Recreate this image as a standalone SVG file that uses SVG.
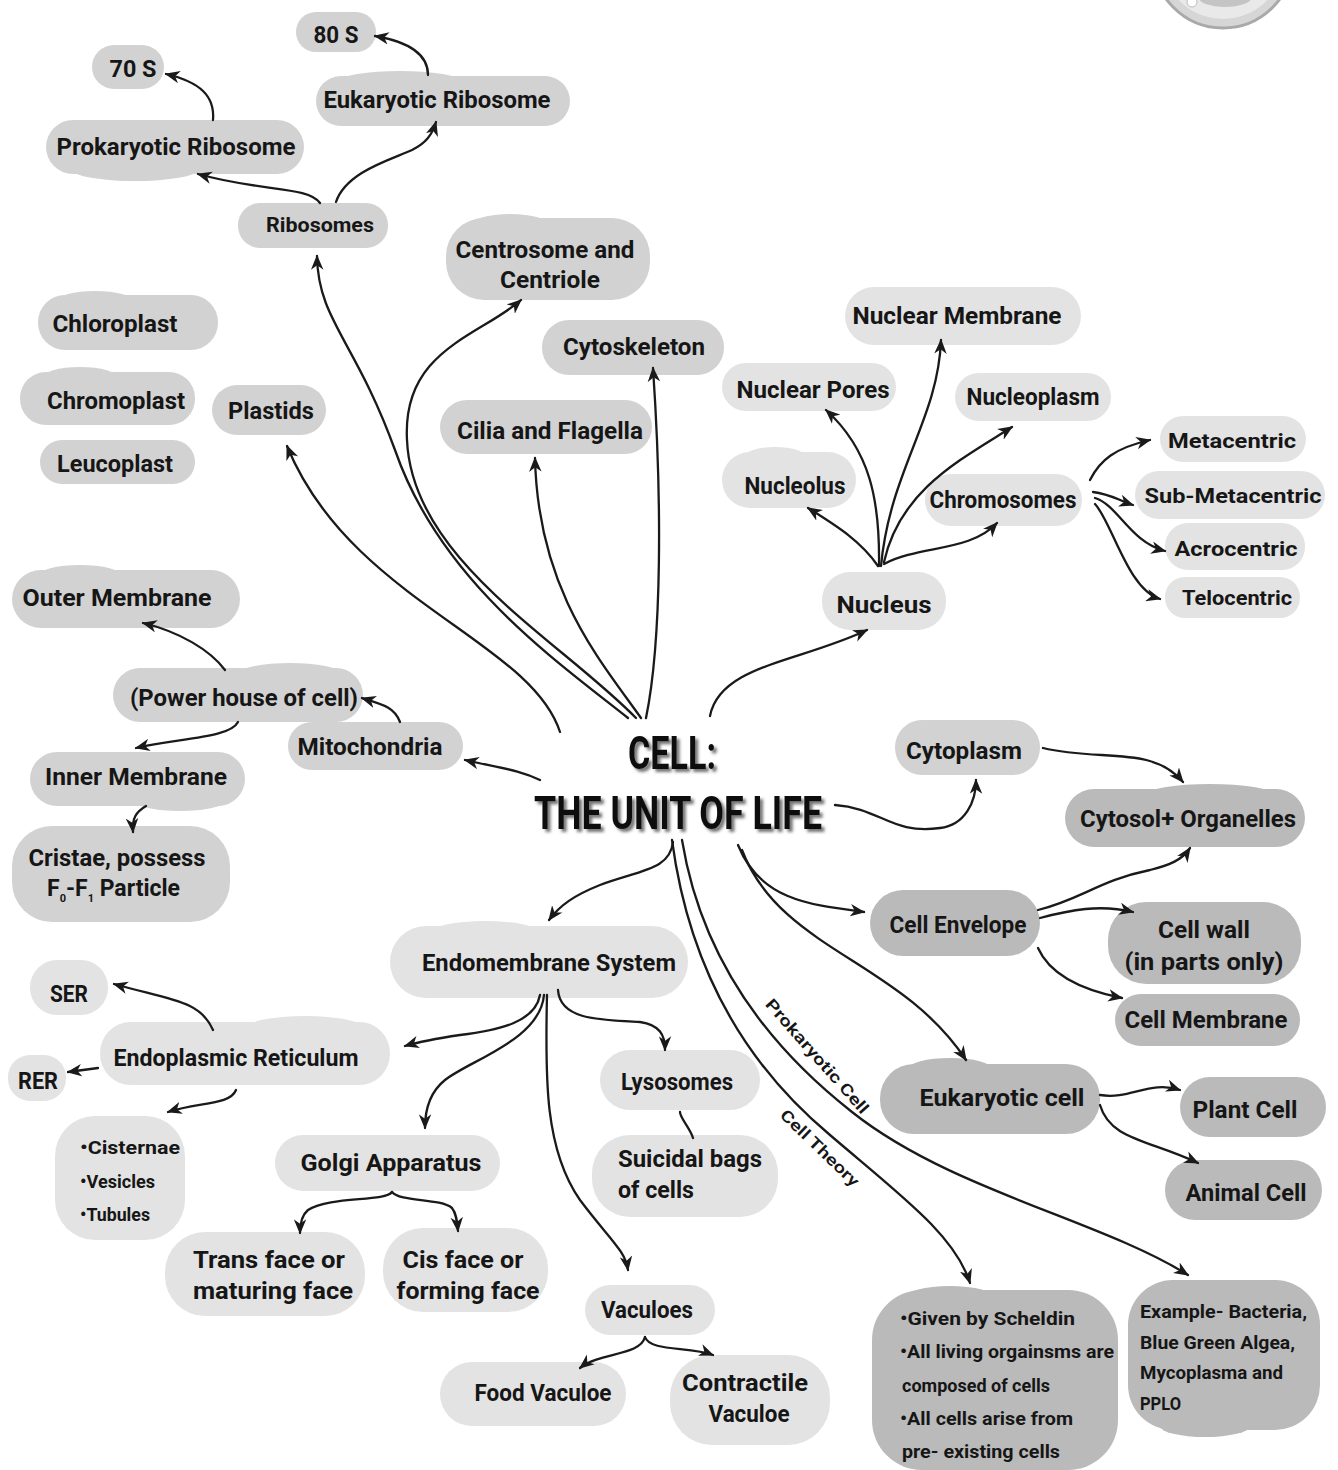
<svg xmlns="http://www.w3.org/2000/svg" width="1338" height="1470" viewBox="0 0 1338 1470">
  <defs>
    <style>
      .l { fill: #e3e3e3; }
      .m { fill: #d2d2d2; }
      .d { fill: #bababa; }
      text { font-family: Roboto, "Liberation Sans", sans-serif; font-weight: 700; fill: #161616; }
      .t { font-size: 23px; text-anchor: middle; }
      .s { font-size: 21px; text-anchor: middle; }
      .x { font-size: 18px; }
      .lbl { font-size: 16px; font-weight: 600; text-anchor: middle; }
      .title { font-size: 46px; text-anchor: middle; fill: #111; }
      .c { fill: none; stroke: #1a1a1a; stroke-width: 2.3; stroke-linecap: round; }
    </style>
    <marker id="ah" viewBox="0 0 12 10" refX="11" refY="5" markerWidth="15" markerHeight="13" markerUnits="userSpaceOnUse" orient="auto">
      <path d="M0,0 L12,5 L0,10 L3.5,5 Z" fill="#1a1a1a"/>
    </marker>
    <filter id="shadow" x="-10%" y="-30%" width="120%" height="160%">
      <feDropShadow dx="3" dy="3" stdDeviation="1.6" flood-color="#555" flood-opacity="0.8"/>
    </filter>
  </defs>

  <rect width="1338" height="1470" fill="#ffffff"/>

  <!-- small cell drawing cut off at the top edge -->
  <g id="cell-icon">
    <circle cx="1223" cy="-42" r="70" fill="#d6d6d6" stroke="#a9a9a9" stroke-width="3"/>
    <circle cx="1223" cy="-42" r="61" fill="#e9e9e9"/>
    <ellipse cx="1225" cy="-2" rx="26" ry="9" fill="#c4c4c4"/>
    <circle cx="1192" cy="2" r="5" fill="#ffffff" stroke="#bbbbbb" stroke-width="1"/>
  </g>

  <!-- ribosomes -->
  <g id="n-80s"><rect class="m" x="296" y="12" width="80" height="40" rx="20"/><text class="t" x="336" y="43" textLength="45" lengthAdjust="spacingAndGlyphs">80 S</text></g>
  <g id="n-70s"><rect class="m" x="92" y="45" width="72" height="44" rx="22"/><text class="t" x="133" y="77" textLength="47" lengthAdjust="spacingAndGlyphs">70 S</text></g>
  <g id="n-eukaryotic-ribosome"><rect class="m" x="316" y="76" width="254" height="50" rx="25"/><ellipse class="m" cx="400" cy="81" rx="60" ry="10"/><text class="t" x="437" y="108" textLength="227" lengthAdjust="spacingAndGlyphs">Eukaryotic Ribosome</text></g>
  <g id="n-prokaryotic-ribosome"><rect class="m" x="46" y="120" width="258" height="54" rx="27"/><ellipse class="m" cx="135" cy="170" rx="62" ry="11"/><text class="t" x="176" y="155" textLength="239" lengthAdjust="spacingAndGlyphs">Prokaryotic Ribosome</text></g>
  <g id="n-ribosomes"><rect class="m" x="238" y="203" width="150" height="45" rx="22"/><text class="s" x="320" y="232" textLength="108" lengthAdjust="spacingAndGlyphs">Ribosomes</text></g>

  <!-- organelles on the upper left -->
  <g id="n-centrosome"><rect class="m" x="446" y="218" width="204" height="82" rx="38"/><ellipse class="m" cx="510" cy="226" rx="40" ry="12"/><text class="t" x="545" y="258" textLength="179" lengthAdjust="spacingAndGlyphs">Centrosome and</text><text class="t" x="550" y="288" textLength="100" lengthAdjust="spacingAndGlyphs">Centriole</text></g>
  <g id="n-chloroplast"><rect class="m" x="38" y="295" width="180" height="55" rx="27"/><ellipse class="m" cx="95" cy="301" rx="38" ry="10"/><text class="t" x="115" y="332" textLength="125" lengthAdjust="spacingAndGlyphs">Chloroplast</text></g>
  <g id="n-chromoplast"><rect class="m" x="20" y="372" width="175" height="53" rx="26"/><ellipse class="m" cx="80" cy="378" rx="38" ry="11"/><text class="t" x="116" y="409" textLength="138" lengthAdjust="spacingAndGlyphs">Chromoplast</text></g>
  <g id="n-leucoplast"><rect class="m" x="40" y="440" width="155" height="44" rx="22"/><text class="t" x="115" y="472" textLength="116" lengthAdjust="spacingAndGlyphs">Leucoplast</text></g>
  <g id="n-plastids"><rect class="m" x="212" y="385" width="114" height="50" rx="25"/><text class="t" x="271" y="419" textLength="86" lengthAdjust="spacingAndGlyphs">Plastids</text></g>
  <g id="n-cytoskeleton"><rect class="m" x="542" y="320" width="182" height="55" rx="27"/><text class="t" x="634" y="355" textLength="142" lengthAdjust="spacingAndGlyphs">Cytoskeleton</text></g>
  <g id="n-cilia"><rect class="m" x="440" y="400" width="212" height="54" rx="27"/><text class="t" x="550" y="439" textLength="186" lengthAdjust="spacingAndGlyphs">Cilia and Flagella</text></g>

  <!-- nucleus -->
  <g id="n-nuclear-membrane"><rect class="l" x="845" y="287" width="236" height="58" rx="29"/><text class="t" x="957" y="324" textLength="209" lengthAdjust="spacingAndGlyphs">Nuclear Membrane</text></g>
  <g id="n-nuclear-pores"><rect class="l" x="722" y="363" width="174" height="48" rx="24"/><text class="t" x="813" y="398" textLength="153" lengthAdjust="spacingAndGlyphs">Nuclear Pores</text></g>
  <g id="n-nucleoplasm"><rect class="l" x="955" y="373" width="156" height="48" rx="24"/><text class="t" x="1033" y="405" textLength="133" lengthAdjust="spacingAndGlyphs">Nucleoplasm</text></g>
  <g id="n-nucleolus"><rect class="l" x="722" y="452" width="134" height="56" rx="28"/><ellipse class="l" cx="775" cy="458" rx="32" ry="11"/><text class="t" x="795" y="494" textLength="101" lengthAdjust="spacingAndGlyphs">Nucleolus</text></g>
  <g id="n-chromosomes"><rect class="l" x="925" y="474" width="157" height="52" rx="26"/><text class="t" x="1003" y="508" textLength="147" lengthAdjust="spacingAndGlyphs">Chromosomes</text></g>
  <g id="n-metacentric"><rect class="l" x="1160" y="416" width="146" height="46" rx="23"/><text class="s" x="1232" y="448" textLength="128" lengthAdjust="spacingAndGlyphs">Metacentric</text></g>
  <g id="n-sub-metacentric"><rect class="l" x="1135" y="471" width="190" height="48" rx="24"/><text class="s" x="1233" y="503" textLength="177" lengthAdjust="spacingAndGlyphs">Sub-Metacentric</text></g>
  <g id="n-acrocentric"><rect class="l" x="1165" y="523" width="140" height="47" rx="23"/><text class="s" x="1236" y="556" textLength="123" lengthAdjust="spacingAndGlyphs">Acrocentric</text></g>
  <g id="n-telocentric"><rect class="l" x="1165" y="577" width="135" height="41" rx="20"/><text class="s" x="1237" y="605" textLength="110" lengthAdjust="spacingAndGlyphs">Telocentric</text></g>
  <g id="n-nucleus"><rect class="l" x="822" y="572" width="124" height="58" rx="28"/><text class="t" x="884" y="613" font-size="28" textLength="95" lengthAdjust="spacingAndGlyphs">Nucleus</text></g>

  <!-- mitochondria -->
  <g id="n-outer-membrane"><rect class="m" x="12" y="570" width="228" height="58" rx="29"/><ellipse class="m" cx="80" cy="576" rx="42" ry="11"/><text class="t" x="117" y="606" textLength="189" lengthAdjust="spacingAndGlyphs">Outer Membrane</text></g>
  <g id="n-power-house"><rect class="m" x="113" y="668" width="250" height="54" rx="27"/><ellipse class="m" cx="290" cy="673" rx="50" ry="10"/><text class="t" x="244" y="706" textLength="228" lengthAdjust="spacingAndGlyphs">(Power house of cell)</text></g>
  <g id="n-mitochondria"><rect class="m" x="288" y="722" width="175" height="48" rx="24"/><text class="t" x="370" y="755" textLength="145" lengthAdjust="spacingAndGlyphs">Mitochondria</text></g>
  <g id="n-inner-membrane"><rect class="m" x="30" y="752" width="215" height="54" rx="27"/><ellipse class="m" cx="180" cy="801" rx="45" ry="10"/><text class="t" x="136" y="785" textLength="182" lengthAdjust="spacingAndGlyphs">Inner Membrane</text></g>
  <g id="n-cristae"><rect class="m" x="12" y="826" width="218" height="96" rx="40"/><text class="t" x="117" y="866" textLength="177" lengthAdjust="spacingAndGlyphs">Cristae, possess</text><text class="t" x="47" y="896" style="text-anchor:start">F<tspan font-size="11" dy="6">0</tspan><tspan dy="-6">-F</tspan><tspan font-size="11" dy="6">1</tspan><tspan dy="-6"> Particle</tspan></text></g>

  <!-- cytoplasm and envelope -->
  <g id="n-cytoplasm"><rect class="m" x="895" y="720" width="145" height="55" rx="27"/><text class="t" x="964" y="759" textLength="116" lengthAdjust="spacingAndGlyphs">Cytoplasm</text></g>
  <g id="n-cytosol"><rect class="d" x="1065" y="789" width="240" height="58" rx="29"/><ellipse class="d" cx="1210" cy="794" rx="62" ry="10"/><text class="t" x="1188" y="827" textLength="216" lengthAdjust="spacingAndGlyphs">Cytosol+ Organelles</text></g>
  <g id="n-cell-envelope"><rect class="d" x="870" y="890" width="170" height="66" rx="33"/><text class="t" x="958" y="933" textLength="137" lengthAdjust="spacingAndGlyphs">Cell Envelope</text></g>
  <g id="n-cell-wall"><rect class="d" x="1108" y="902" width="193" height="82" rx="38"/><text class="t" x="1204" y="938" textLength="92" lengthAdjust="spacingAndGlyphs">Cell wall</text><text class="t" x="1204" y="970" textLength="159" lengthAdjust="spacingAndGlyphs">(in parts only)</text></g>
  <g id="n-cell-membrane"><rect class="d" x="1115" y="994" width="185" height="52" rx="26"/><text class="t" x="1206" y="1028" textLength="163" lengthAdjust="spacingAndGlyphs">Cell Membrane</text></g>
  <g id="n-eukaryotic-cell"><rect class="d" x="880" y="1064" width="220" height="70" rx="34"/><ellipse class="d" cx="950" cy="1069" rx="42" ry="11"/><text class="t" x="1002" y="1106" textLength="165" lengthAdjust="spacingAndGlyphs">Eukaryotic cell</text></g>
  <g id="n-plant-cell"><rect class="d" x="1180" y="1077" width="146" height="60" rx="30"/><text class="t" x="1245" y="1118" textLength="105" lengthAdjust="spacingAndGlyphs">Plant Cell</text></g>
  <g id="n-animal-cell"><rect class="d" x="1165" y="1160" width="157" height="60" rx="30"/><text class="t" x="1246" y="1201" textLength="121" lengthAdjust="spacingAndGlyphs">Animal Cell</text></g>

  <!-- endomembrane system -->
  <g id="n-endomembrane"><rect class="l" x="390" y="926" width="298" height="72" rx="36"/><ellipse class="l" cx="485" cy="933" rx="55" ry="12"/><text class="t" x="549" y="971" textLength="254" lengthAdjust="spacingAndGlyphs">Endomembrane System</text></g>
  <g id="n-ser"><rect class="l" x="30" y="960" width="78" height="55" rx="27"/><text class="t" x="69" y="1002" textLength="38" lengthAdjust="spacingAndGlyphs">SER</text></g>
  <g id="n-er"><rect class="l" x="100" y="1022" width="290" height="63" rx="31"/><ellipse class="l" cx="305" cy="1029" rx="60" ry="13"/><text class="t" x="236" y="1066" textLength="245" lengthAdjust="spacingAndGlyphs">Endoplasmic Reticulum</text></g>
  <g id="n-rer"><rect class="l" x="8" y="1055" width="58" height="46" rx="22"/><text class="t" x="38" y="1089" textLength="40" lengthAdjust="spacingAndGlyphs">RER</text></g>
  <g id="n-er-parts"><rect class="l" x="55" y="1116" width="130" height="124" rx="40"/>
    <text class="x" x="80" y="1154" textLength="100" lengthAdjust="spacingAndGlyphs">•Cisternae</text>
    <text class="x" x="80" y="1188" textLength="75" lengthAdjust="spacingAndGlyphs">•Vesicles</text>
    <text class="x" x="80" y="1221" textLength="70" lengthAdjust="spacingAndGlyphs">•Tubules</text></g>
  <g id="n-lysosomes"><rect class="l" x="600" y="1050" width="160" height="60" rx="30"/><text class="t" x="677" y="1090" textLength="112" lengthAdjust="spacingAndGlyphs">Lysosomes</text></g>
  <g id="n-suicidal-bags"><rect class="l" x="592" y="1135" width="186" height="82" rx="38"/><text class="t" x="618" y="1167" style="text-anchor:start" textLength="144" lengthAdjust="spacingAndGlyphs">Suicidal bags</text><text class="t" x="618" y="1198" style="text-anchor:start" textLength="76" lengthAdjust="spacingAndGlyphs">of cells</text></g>
  <g id="n-golgi"><rect class="l" x="275" y="1135" width="225" height="56" rx="28"/><text class="t" x="391" y="1171" textLength="181" lengthAdjust="spacingAndGlyphs">Golgi Apparatus</text></g>
  <g id="n-trans-face"><rect class="l" x="165" y="1232" width="200" height="84" rx="40"/><text class="t" x="269" y="1268" textLength="152" lengthAdjust="spacingAndGlyphs">Trans face or</text><text class="t" x="273" y="1299" textLength="160" lengthAdjust="spacingAndGlyphs">maturing face</text></g>
  <g id="n-cis-face"><rect class="l" x="383" y="1228" width="165" height="84" rx="40"/><text class="t" x="463" y="1268" textLength="121" lengthAdjust="spacingAndGlyphs">Cis face or</text><text class="t" x="468" y="1299" textLength="143" lengthAdjust="spacingAndGlyphs">forming face</text></g>
  <g id="n-vacuoles"><rect class="l" x="585" y="1285" width="130" height="50" rx="25"/><text class="t" x="647" y="1318" textLength="92" lengthAdjust="spacingAndGlyphs">Vaculoes</text></g>
  <g id="n-food-vacuole"><rect class="l" x="440" y="1362" width="186" height="64" rx="32"/><text class="t" x="543" y="1401" textLength="137" lengthAdjust="spacingAndGlyphs">Food Vaculoe</text></g>
  <g id="n-contractile-vacuole"><rect class="l" x="670" y="1355" width="160" height="90" rx="42"/><text class="t" x="745" y="1391" textLength="126" lengthAdjust="spacingAndGlyphs">Contractile</text><text class="t" x="749" y="1422" textLength="81" lengthAdjust="spacingAndGlyphs">Vaculoe</text></g>

  <!-- cell theory and prokaryotic examples -->
  <g id="n-cell-theory"><rect class="d" x="872" y="1290" width="246" height="180" rx="50"/><ellipse class="d" cx="950" cy="1298" rx="45" ry="12"/>
    <text class="x" x="900" y="1325" textLength="175" lengthAdjust="spacingAndGlyphs">•Given by Scheldin</text>
    <text class="x" x="900" y="1358" textLength="214" lengthAdjust="spacingAndGlyphs">•All living orgainsms are</text>
    <text class="x" x="902" y="1392" textLength="148" lengthAdjust="spacingAndGlyphs">composed of cells</text>
    <text class="x" x="900" y="1425" textLength="173" lengthAdjust="spacingAndGlyphs">•All cells arise from</text>
    <text class="x" x="902" y="1458" textLength="158" lengthAdjust="spacingAndGlyphs">pre- existing cells</text></g>
  <g id="n-prokaryotic-examples"><rect class="d" x="1128" y="1280" width="192" height="150" rx="45"/><ellipse class="d" cx="1205" cy="1426" rx="45" ry="11"/>
    <text class="x" x="1140" y="1318" textLength="167" lengthAdjust="spacingAndGlyphs">Example- Bacteria,</text>
    <text class="x" x="1140" y="1349" textLength="155" lengthAdjust="spacingAndGlyphs">Blue Green Algea,</text>
    <text class="x" x="1140" y="1379" textLength="143" lengthAdjust="spacingAndGlyphs">Mycoplasma and</text>
    <text class="x" x="1140" y="1410" textLength="41" lengthAdjust="spacingAndGlyphs">PPLO</text></g>

  <!-- connectors -->
  <g id="connectors">
    <!-- ribosomes -->
    <path class="c" marker-end="url(#ah)" d="M320,203 C308,186 262,192 198,174"/>
    <path class="c" marker-end="url(#ah)" d="M336,202 C346,172 390,160 412,150 C426,143 432,135 436,122"/>
    <path class="c" marker-end="url(#ah)" d="M213,120 C215,96 200,82 166,74"/>
    <path class="c" marker-end="url(#ah)" d="M428,75 C428,55 410,42 375,36"/>
    <!-- from the centre -->
    <path class="c" marker-end="url(#ah)" d="M628,718 C555,660 440,580 395,450 C355,340 318,320 317,256"/>
    <path class="c" marker-end="url(#ah)" d="M560,732 C530,640 350,600 287,446"/>
    <path class="c" marker-end="url(#ah)" d="M636,718 C560,640 412,560 407,440 C402,350 480,336 521,300"/>
    <path class="c" marker-end="url(#ah)" d="M641,718 C600,660 538,590 535,458"/>
    <path class="c" marker-end="url(#ah)" d="M646,718 C662,640 662,500 653,368"/>
    <path class="c" marker-end="url(#ah)" d="M710,716 C720,665 800,662 867,630"/>
    <path class="c" marker-end="url(#ah)" d="M540,780 C520,770 500,768 465,760"/>
    <!-- mitochondria -->
    <path class="c" marker-end="url(#ah)" d="M400,722 C395,708 385,705 362,698"/>
    <path class="c" marker-end="url(#ah)" d="M225,670 C210,650 180,632 143,623"/>
    <path class="c" marker-end="url(#ah)" d="M238,722 C230,738 180,738 136,748"/>
    <path class="c" marker-end="url(#ah)" d="M146,806 C136,812 132,818 133,832"/>
    <!-- nucleus -->
    <path class="c" marker-end="url(#ah)" d="M878,566 C860,540 835,525 808,508"/>
    <path class="c" marker-end="url(#ah)" d="M879,566 C880,500 870,450 826,410"/>
    <path class="c" marker-end="url(#ah)" d="M881,566 C890,470 938,420 941,340"/>
    <path class="c" marker-end="url(#ah)" d="M884,562 C900,490 960,460 1012,427"/>
    <path class="c" marker-end="url(#ah)" d="M884,564 C920,545 970,552 997,523"/>
    <!-- chromosomes -->
    <path class="c" marker-end="url(#ah)" d="M1090,480 C1100,460 1115,448 1150,440"/>
    <path class="c" marker-end="url(#ah)" d="M1093,492 C1110,494 1118,500 1133,505"/>
    <path class="c" marker-end="url(#ah)" d="M1095,498 C1118,505 1130,542 1165,551"/>
    <path class="c" marker-end="url(#ah)" d="M1095,504 C1112,522 1128,590 1160,599"/>
    <!-- cytoplasm -->
    <path class="c" marker-end="url(#ah)" d="M835,805 C880,808 892,835 940,828 C965,825 976,802 976,780"/>
    <path class="c" marker-end="url(#ah)" d="M1043,748 C1100,762 1152,745 1183,782"/>
    <!-- cell envelope -->
    <path class="c" marker-end="url(#ah)" d="M738,845 C760,900 810,905 864,912"/>
    <path class="c" marker-end="url(#ah)" d="M1038,910 C1080,900 1100,880 1150,870 C1170,865 1182,860 1190,848"/>
    <path class="c" marker-end="url(#ah)" d="M1040,918 C1070,910 1100,904 1133,912"/>
    <path class="c" marker-end="url(#ah)" d="M1038,948 C1050,975 1082,990 1122,998"/>
    <!-- eukaryotic cell -->
    <path class="c" marker-end="url(#ah)" d="M742,850 C780,950 900,960 966,1060"/>
    <path class="c" marker-end="url(#ah)" d="M1100,1095 C1130,1100 1150,1080 1180,1090"/>
    <path class="c" marker-end="url(#ah)" d="M1100,1105 C1110,1140 1150,1140 1198,1163"/>
    <!-- cell theory / prokaryotic cell -->
    <path class="c" marker-end="url(#ah)" d="M672,840 C688,960 740,1060 830,1135 C900,1195 955,1235 970,1283"/>
    <path class="c" marker-end="url(#ah)" d="M682,840 C700,950 760,1040 852,1112 C950,1190 1100,1220 1188,1275"/>
    <!-- endomembrane system -->
    <path class="c" marker-end="url(#ah)" d="M673,842 C670,870 640,870 600,885 C575,895 560,905 549,920"/>
    <path class="c" marker-end="url(#ah)" d="M540,995 C535,1022 500,1030 460,1035 C440,1038 422,1041 405,1046"/>
    <path class="c" marker-end="url(#ah)" d="M544,995 C540,1040 470,1060 445,1080 C430,1092 425,1110 425,1128"/>
    <path class="c" marker-end="url(#ah)" d="M547,995 C545,1080 545,1150 580,1200 C610,1240 625,1250 628,1270"/>
    <path class="c" marker-end="url(#ah)" d="M558,990 C560,1020 600,1020 640,1022 C660,1025 665,1035 665,1050"/>
    <path class="c" d="M680,1112 C680,1118 690,1128 693,1138"/>
    <!-- endoplasmic reticulum -->
    <path class="c" marker-end="url(#ah)" d="M213,1030 C200,1000 170,1000 114,984"/>
    <path class="c" marker-end="url(#ah)" d="M98,1068 L68,1072"/>
    <path class="c" marker-end="url(#ah)" d="M236,1090 C230,1105 200,1102 168,1112"/>
    <!-- golgi apparatus -->
    <path class="c" marker-end="url(#ah)" d="M392,1192 C385,1202 330,1196 308,1210 C302,1215 300,1222 300,1233"/>
    <path class="c" marker-end="url(#ah)" d="M392,1192 C400,1202 440,1198 452,1208 C456,1213 457,1220 458,1231"/>
    <!-- vacuoles -->
    <path class="c" marker-end="url(#ah)" d="M645,1337 C640,1356 600,1352 580,1368"/>
    <path class="c" marker-end="url(#ah)" d="M645,1337 C650,1352 690,1346 713,1355"/>
    <!-- connector labels -->
    <text class="lbl" transform="translate(813,1060) rotate(48.6)" textLength="147" lengthAdjust="spacingAndGlyphs">Prokaryotic Cell</text>
    <text class="lbl" transform="translate(816,1152) rotate(44)" textLength="103" lengthAdjust="spacingAndGlyphs">Cell Theory</text>
  </g>

  <!-- title -->
  <g id="title" filter="url(#shadow)">
    <text class="title" x="672" y="769" textLength="88" lengthAdjust="spacingAndGlyphs">CELL:</text>
    <text class="title" x="678" y="829" textLength="288" lengthAdjust="spacingAndGlyphs">THE UNIT OF LIFE</text>
  </g>
</svg>
